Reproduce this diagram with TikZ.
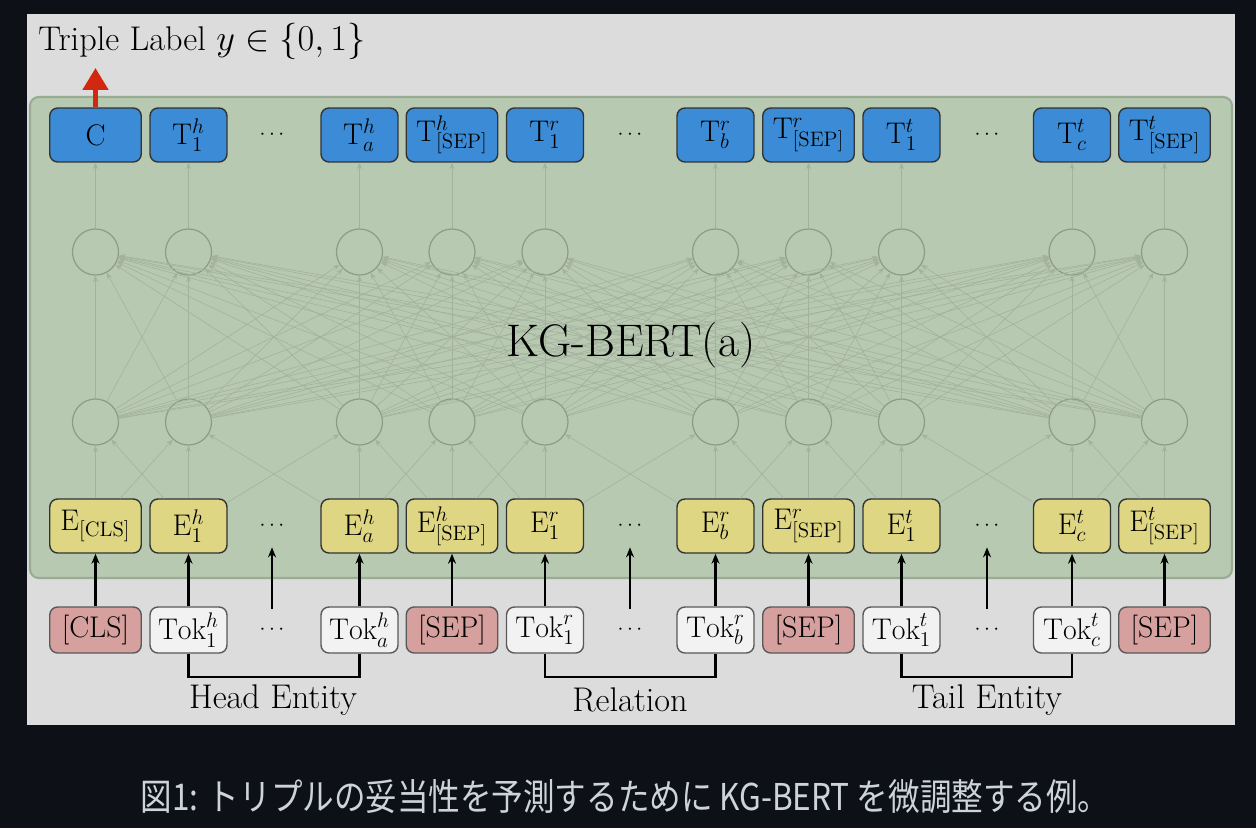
\documentclass[tikz,border=0pt]{standalone}
\usepackage{fontspec}
\newfontfamily\cjk{Noto Sans CJK JP}
\usepackage{tikz}
\usetikzlibrary{arrows.meta}
\definecolor{pagebg}{RGB}{13,17,23}
\definecolor{panel}{RGB}{220,220,220}
\definecolor{encfill}{RGB}{184,201,178}
\definecolor{encline}{RGB}{154,171,147}
\definecolor{tblue}{RGB}{59,139,214}
\definecolor{eyell}{RGB}{222,214,130}
\definecolor{spred}{RGB}{213,160,158}
\definecolor{tokw}{RGB}{242,242,242}
\definecolor{nodec}{RGB}{141,156,136}
\definecolor{linkc}{RGB}{163,178,157}
\definecolor{outred}{RGB}{210,40,15}
\definecolor{captxt}{RGB}{205,211,217}
\tikzset{
  box/.style={rectangle, rounded corners=4.5pt, draw=black!80, line width=0.8pt, fill=#1,
              minimum height=1.08cm, inner sep=1pt, font=\fontsize{17}{19}\selectfont},
  box/.default={tokw},
  tbox/.style={box=tblue},
  ebox/.style={box=eyell},
  kbox/.style={box=#1, minimum height=0.92cm, draw=black!65},
  neuron/.style={circle, draw=nodec, line width=0.7pt, minimum size=0.92cm, inner sep=0pt},
  gap/.style={minimum height=0.84cm, inner sep=0pt, font=\fontsize{12}{14}\selectfont},
  link/.style={-{Stealth[length=1.3mm, width=1mm]}, draw=linkc, line width=0.35pt},
  feed/.style={-{Stealth[length=2mm, width=1.6mm]}, line width=1.2pt, black},
  outarr/.style={-{Triangle[length=4.4mm, width=5mm]}, line width=2.8pt, outred},
  brk/.style={line width=1.2pt, black},
  lbl/.style={font=\fontsize{19.5}{22}\selectfont, inner sep=0pt},
}
\begin{document}
\begin{tikzpicture}[x=0.02cm, y=-0.02cm]
\useasboundingbox (0,0) rectangle (1256,828);
\fill[pagebg] (0,0) rectangle (1256,828);
\fill[panel] (27,14) rectangle (1235,725);
% encoder block
\draw[encline, fill=encfill, line width=1.2pt, rounded corners=5pt] (30,97) rectangle (1232,578);
\foreach \i/\x/\w/\tl/\el/\kl/\kf in {
  1/95.5/1.83cm/{\mathrm{C}}/{\mathrm{E}_{\mathrm{[CLS]}}}/{[CLS]}/spred,
  2/188.5/1.54cm/{\mathrm{T}^h_1}/{\mathrm{E}^h_1}/{$\mathrm{Tok}^h_1$}/tokw,
  3/359.5/1.54cm/{\mathrm{T}^h_a}/{\mathrm{E}^h_a}/{$\mathrm{Tok}^h_a$}/tokw,
  4/452/1.83cm/{\mathrm{T}^h_{\mathrm{[SEP]}}}/{\mathrm{E}^h_{\mathrm{[SEP]}}}/{[SEP]}/spred,
  5/545/1.54cm/{\mathrm{T}^r_1}/{\mathrm{E}^r_1}/{$\mathrm{Tok}^r_1$}/tokw,
  6/715.5/1.54cm/{\mathrm{T}^r_b}/{\mathrm{E}^r_b}/{$\mathrm{Tok}^r_b$}/tokw,
  7/808.5/1.83cm/{\mathrm{T}^r_{\mathrm{[SEP]}}}/{\mathrm{E}^r_{\mathrm{[SEP]}}}/{[SEP]}/spred,
  8/901.5/1.54cm/{\mathrm{T}^t_1}/{\mathrm{E}^t_1}/{$\mathrm{Tok}^t_1$}/tokw,
  9/1072/1.54cm/{\mathrm{T}^t_c}/{\mathrm{E}^t_c}/{$\mathrm{Tok}^t_c$}/tokw,
  10/1164.5/1.83cm/{\mathrm{T}^t_{\mathrm{[SEP]}}}/{\mathrm{E}^t_{\mathrm{[SEP]}}}/{[SEP]}/spred} {
  \node[tbox, minimum width=\w] (t\i) at (\x,135) {$\tl$};
  \node[neuron] (n\i) at (\x,252) {};
  \node[neuron] (m\i) at (\x,422) {};
  \node[ebox, minimum width=\w] (e\i) at (\x,526) {$\el$};
  \node[kbox=\kf, minimum width=\w] (k\i) at (\x,630) {\kl};
}
% dots columns
\foreach \j/\x in {1/272, 2/630, 3/987} {
  \node[gap] (td\j) at (\x,135) {$\cdots$};
  \node[gap] (ed\j) at (\x,526) {$\cdots$};
  \node[gap] (kd\j) at (\x,630) {$\cdots$};
  \draw[feed] (kd\j) -- (ed\j);
}
% hidden layers
\foreach \i in {1,...,10} {
  \draw[link] (n\i) -- (t\i);
  \draw[link] (e\i) -- (m\i);
  \draw[feed] (k\i) -- (e\i);
  \foreach \j in {1,...,10} \draw[link] (m\i) -- (n\j);
}
\foreach \i [evaluate=\i as \j using int(\i+1)] in {1,...,9} {
  \draw[link] (e\i) -- (m\j);
  \draw[link] (e\j) -- (m\i);
}
\node[font=\fontsize{26}{30}\selectfont] (kg) at (631,345) {KG-BERT(a)};
% output label
\node[lbl, anchor=west] (ylab) at (38,41) {Triple Label $y\in\{0,1\}$};
\coordinate (yend) at (95.5,68);
\draw[outarr] (t1) -- (yend);
% input groups
\draw[brk] (k2.south) -- ++(0,23) -| (k3.south);
\draw[brk] (k5.south) -- ++(0,23) -| (k6.south);
\draw[brk] (k8.south) -- ++(0,23) -| (k9.south);
\node[lbl] (head) at (273,700) {Head Entity};
\node[lbl] (rel) at (630,700) {Relation};
\node[lbl] (tail) at (987,700) {Tail Entity};
% caption
\node[font=\cjk\fontsize{21}{24}\selectfont, text=captxt] (cap) at (625,797)
  {\scalebox{0.855}[1]{図1: トリプルの妥当性を予測するために KG-BERT を微調整する例。}};
\end{tikzpicture}
\end{document}
